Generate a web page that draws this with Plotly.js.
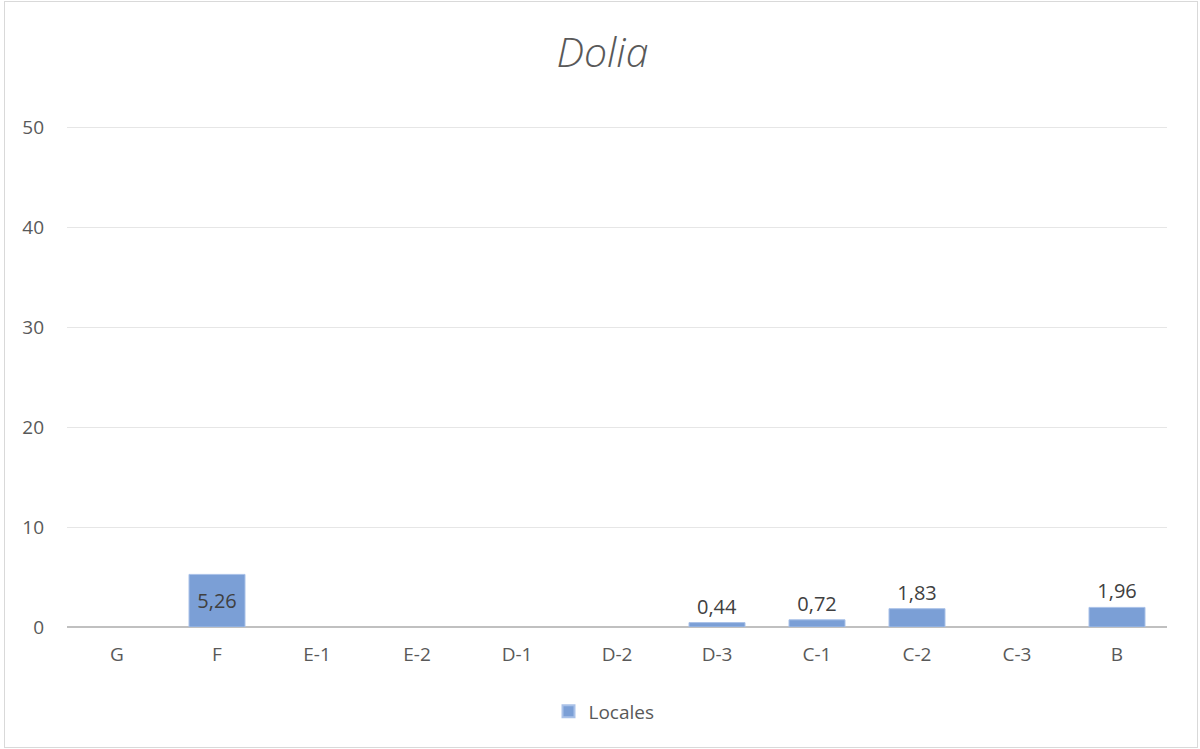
<!DOCTYPE html>
<html>
<head>
<meta charset="utf-8">
<script src="https://cdn.plot.ly/plotly-3.0.1.min.js"></script>
<style>
html,body{margin:0;padding:0;background:#fff;}
#wrap{position:relative;width:1200px;height:749px;}
#chart{position:absolute;left:0;top:0;width:1200px;height:749px;}
#frame{position:absolute;left:4px;top:1px;width:1192px;height:745px;border:1px solid #d9d9d9;pointer-events:none;}
</style>
</head>
<body>
<div id="wrap"><div id="chart"></div><div id="frame"></div></div>
<script>
const categories = ["G","F","E-1","E-2","D-1","D-2","D-3","C-1","C-2","C-3","B"];
const locales = [null, 5.26, null, null, null, null, 0.44, 0.72, 1.83, null, 1.96];
const seriesName = "Locales";
const yTicks = [0,10,20,30,40,50];

const textpos = locales.map(v => (v !== null && v > 4) ? "inside" : "outside");
const FONT = "Open Sans, Noto Sans, sans-serif";

const trace = {
  type: "bar",
  x: categories,
  y: locales,
  name: seriesName,
  marker: {color: "#7b9fd6", line: {color: "#a9c1e8", width: 1}},
  texttemplate: "%{y:.2f}",
  textposition: textpos,
  insidetextanchor: "middle",
  constraintext: "none",
  textfont: {family: FONT, size: 20, color: "#404040"},
  cliponaxis: false,
  hoverinfo: "none"
};

const layout = {
  width: 1200,
  height: 749,
  separators: ", ",
  paper_bgcolor: "#ffffff",
  plot_bgcolor: "#ffffff",
  margin: {l: 67, r: 33, t: 124, b: 122},
  bargap: 0.44,
  title: {
    text: "<i>Dolia</i>",
    font: {family: FONT, size: 41, color: "#595959", weight: 300},
    x: 0.502, xanchor: "center", xref: "container",
    y: 1 - 53/749, yanchor: "middle", yref: "container"
  },
  xaxis: {
    type: "category",
    tickfont: {family: FONT, size: 19, color: "#595959"},
    showgrid: false,
    showline: false,
    ticks: "",
    ticklabelstandoff: 14,
    zeroline: false,
    fixedrange: true
  },
  yaxis: {
    range: [0, 50.3],
    tickvals: yTicks,
    tickfont: {family: FONT, size: 19, color: "#595959"},
    showgrid: true,
    gridcolor: "#e6e6e6",
    gridwidth: 1,
    zeroline: true,
    zerolinecolor: "#c0c0c0",
    zerolinewidth: 2,
    showline: false,
    ticks: "",
    ticklabelstandoff: 22,
    fixedrange: true
  },
  showlegend: true,
  legend: {
    orientation: "h",
    x: 0.5 - 13/1100, xanchor: "center",
    y: -0.168, yanchor: "middle",
    font: {family: FONT, size: 19, color: "#595959"},
    itemwidth: 30,
    itemsizing: "constant"
  }
};

Plotly.newPlot("chart", [trace], layout, {displayModeBar: false, staticPlot: true});
</script>
</body>
</html>
